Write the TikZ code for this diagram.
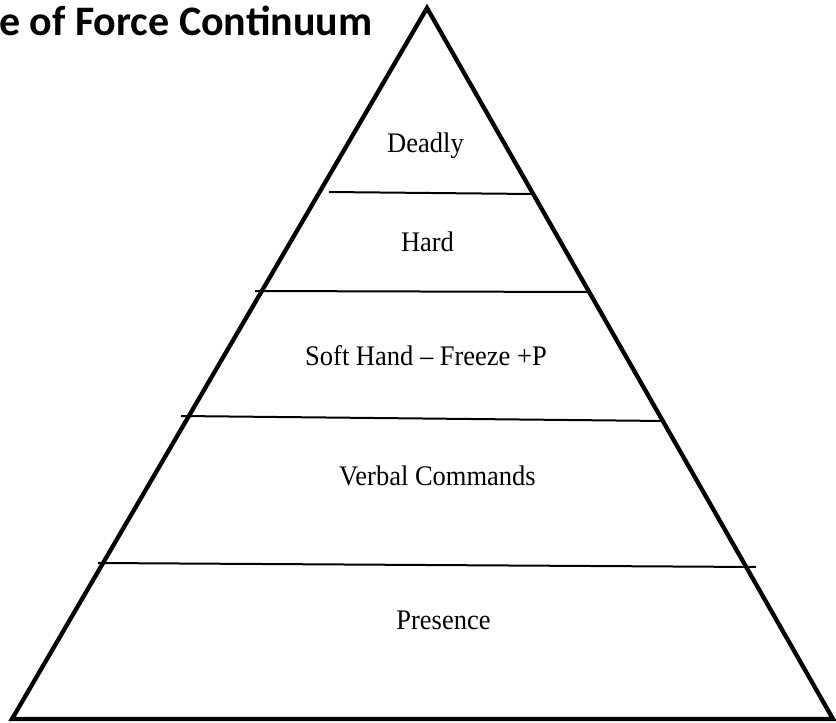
\documentclass[tikz,border=0pt]{standalone}
\usepackage{fontspec}
\setmainfont{Liberation Serif}
\newfontfamily\titlefont{Carlito}
\usepackage{tikz}
\usetikzlibrary{positioning,calc}

\begin{document}
\begin{tikzpicture}[x=1pt, y=-1pt, every node/.style={inner sep=0pt, anchor=base},
  level/.style={font=\fontsize{26.5}{30}\selectfont, yscale=1.07, transform shape},
  side/.style={line width=4.3pt, line join=miter},
  divider/.style={line width=2pt}]
 \useasboundingbox (0,0) rectangle (836,723);

 \node[font=\titlefont\bfseries\fontsize{42}{46}\selectfont, anchor=base west](title) at (-1, 35) {e of Force Continuum};

 \coordinate (apex) at (427, 8);
 \coordinate (baseleft) at (12, 719);
 \coordinate (baseright) at (833, 719);
 \draw[side] (apex) -- (baseleft) -- (baseright) -- cycle;

 \node[level](deadly) at (425.5, 152) {Deadly};
 \node[level](hard) at (427.5, 251) {Hard};
 \node[level](soft) at (426, 365) {Soft Hand -- Freeze +P};
 \node[level](verbal) at (437.5, 485) {Verbal Commands};
 \node[level](presence) at (443.5, 629) {Presence};

 \coordinate (d1l) at (329, 192); \coordinate (d1r) at (533, 194);
 \coordinate (d2l) at (255, 291); \coordinate (d2r) at (588, 292);
 \coordinate (d3l) at (181, 416); \coordinate (d3r) at (665, 421);
 \coordinate (d4l) at (98, 563);  \coordinate (d4r) at (756, 567);

 \draw[divider] (d1l) -- (d1r)
                (d2l) -- (d2r)
                (d3l) -- (d3r)
                (d4l) -- (d4r);

\end{tikzpicture}
\end{document}
